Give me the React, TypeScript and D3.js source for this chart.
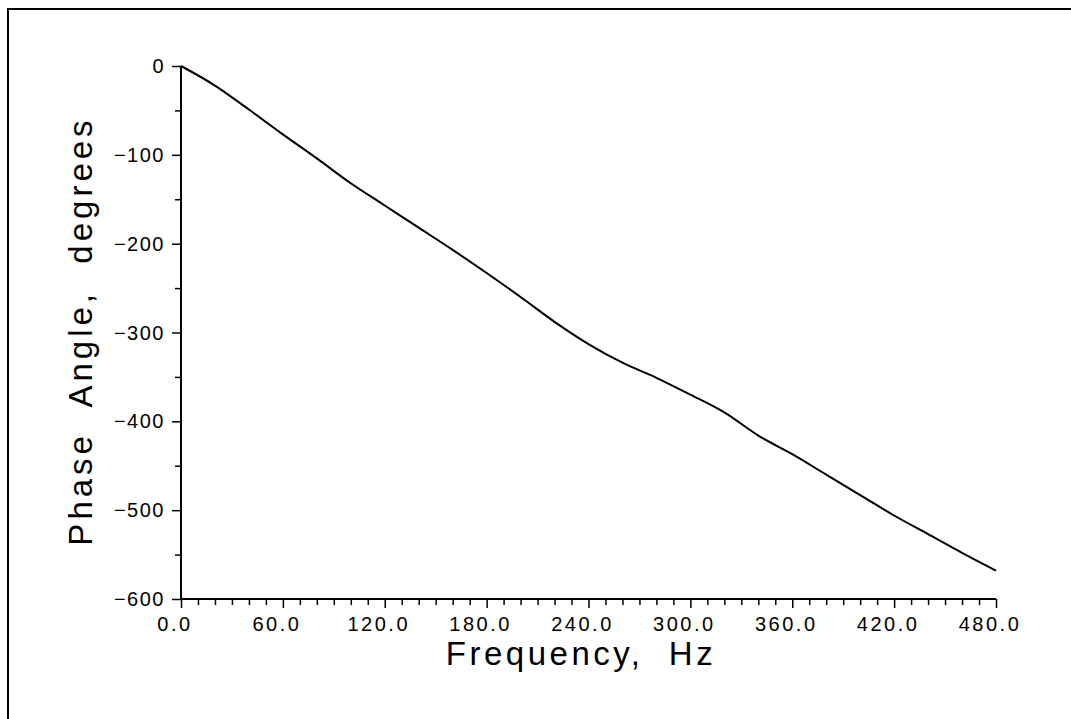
import React, { useRef, useEffect } from 'react';
import * as d3 from 'd3';

// phase curve, every 20 Hz
const frequency = [0, 20, 40, 60, 80, 100, 120, 140, 160, 180, 200, 220, 240, 260, 280, 300, 320, 340, 360, 380, 400, 420, 440, 460, 480];
const phase = [0, -22, -49, -77, -104, -132, -157, -182, -207, -233, -260, -288, -313, -334, -351, -370, -390, -416, -437, -460, -483, -506, -527, -548, -568];

const xTicks = [0, 60, 120, 180, 240, 300, 360, 420, 480];
const yTicks = [0, -100, -200, -300, -400, -500, -600];

const App = () => {
  const ref = useRef<SVGSVGElement>(null);

  useEffect(() => {
    const width = 1071;
    const height = 719;
    const left = 181;
    const right = 996;
    const top = 66;
    const bottom = 599;
    const font = "'Liberation Sans', Arial, sans-serif";

    const svg = d3.select(ref.current);
    svg.selectAll('*').remove();

    // outer frame (only top and left edges show)
    svg.append('path')
      .attr('d', `M8,${height} L8,9 L${width},9`)
      .attr('fill', 'none')
      .attr('stroke', '#000')
      .attr('stroke-width', 2);

    const x = d3.scaleLinear().domain([0, 480]).range([left, right]);
    const y = d3.scaleLinear().domain([-600, 0]).range([bottom, top]);

    // x axis: minor ticks every 10, labels every 60
    const xAxis = svg.append('g').attr('transform', `translate(0,${bottom})`);
    xAxis.call(d3.axisBottom(x).tickValues(d3.range(0, 481, 10)).tickSize(6).tickFormat(() => ''));
    xAxis.selectAll('.tick line')
      .attr('y2', (d: any) => (d % 60 === 0 ? 9 : 6))
      .attr('stroke-width', 1.5);
    xAxis.select('.domain').attr('d', `M${left},0H${right}`).attr('stroke-width', 2);

    // labels sit a little left of their ticks, as in the original
    svg.append('g')
      .selectAll('text')
      .data(xTicks)
      .join('text')
      .attr('x', (d) => x(d) - 6)
      .attr('y', 631)
      .attr('text-anchor', 'middle')
      .attr('font-family', font)
      .attr('font-size', 20)
      .attr('letter-spacing', 2.5)
      .text((d) => d3.format('.1f')(d));

    // y axis: minor ticks every 50
    const yAxis = svg.append('g').attr('transform', `translate(${left},0)`);
    yAxis.call(d3.axisLeft(y).tickValues(d3.range(-600, 1, 50)).tickSize(9).tickFormat(() => ''));
    yAxis.selectAll('.tick line')
      .attr('x2', (d: any) => (d % 100 === 0 ? -9 : -6))
      .attr('stroke-width', 1.5);
    yAxis.select('.domain').attr('d', `M0,${bottom}V${top}`).attr('stroke-width', 2);

    svg.append('g')
      .selectAll('text')
      .data(yTicks)
      .join('text')
      .attr('x', 165)
      .attr('y', (d) => y(d) + 7)
      .attr('text-anchor', 'end')
      .attr('font-family', font)
      .attr('font-size', 20)
      .attr('letter-spacing', 1.5)
      .text((d) => (d < 0 ? '\u2212' + Math.abs(d) : String(d)));

    // axis titles
    svg.append('text')
      .attr('x', 581)
      .attr('y', 665)
      .attr('text-anchor', 'middle')
      .attr('font-family', font)
      .attr('font-size', 33)
      .attr('letter-spacing', 3.5)
      .style('white-space', 'pre')
      .text('Frequency,  Hz');

    svg.append('text')
      .attr('transform', `translate(92,331) rotate(-90)`)
      .attr('text-anchor', 'middle')
      .attr('font-family', font)
      .attr('font-size', 33)
      .attr('letter-spacing', 4)
      .style('white-space', 'pre')
      .text('Phase  Angle,  degrees');

    // the phase curve
    const line = d3.line<number>()
      .x((_, i) => x(frequency[i]))
      .y((d) => y(d))
      .curve(d3.curveMonotoneX);

    svg.append('path')
      .attr('fill', 'none')
      .attr('stroke', '#000')
      .attr('stroke-width', 2)
      .attr('d', line(phase));
  }, []);

  return (
    <svg
      ref={ref}
      width={1071}
      height={719}
      style={{ position: 'absolute', left: 0, top: 0, background: '#fff' }}
    />
  );
};

export default App;
